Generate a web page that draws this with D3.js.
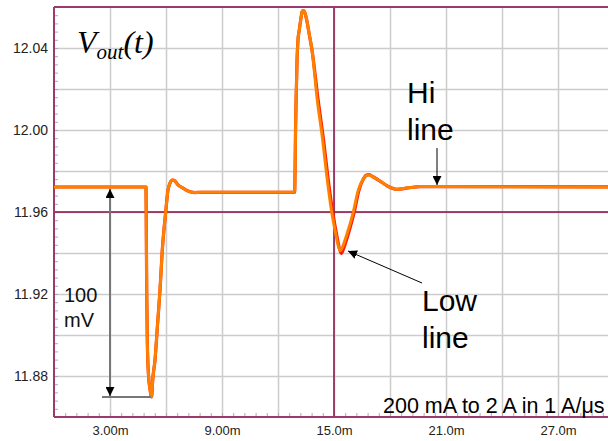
<!DOCTYPE html>
<html>
<head>
<meta charset="utf-8">
<script src="https://cdn.jsdelivr.net/npm/d3@7"></script>
<style>
  html, body { margin: 0; padding: 0; background: #fff; }
  svg { display: block; }
</style>
</head>
<body>
<svg id="chart" width="608" height="441"></svg>
<script>
// Output voltage during a 200 mA -> 2 A load step, two input-line conditions.
const hiTime = [0, 4.929, 4.945, 4.966, 4.998, 5.062, 5.150, 5.200, 5.230, 5.287, 5.411, 5.545, 5.679,
  5.802, 5.984, 6.107, 6.214, 6.348, 6.482, 6.643, 6.911, 7.179, 7.554, 7.821, 10.50, 12.890,
  12.915, 12.940, 12.970, 13.020, 13.071, 13.141, 13.232, 13.286, 13.355, 13.446, 13.537, 13.661,
  13.821, 14.105, 14.394, 14.609, 14.877, 15.107, 15.230, 15.337, 15.455, 15.680, 16.034, 16.302,
  16.537, 16.714, 16.875, 17.089, 17.464, 17.855, 18.359, 19.071, 19.607, 20.30, 30];
const hiVolt = [11.9722, 11.9722, 11.9512, 11.9220, 11.8976, 11.8805, 11.8732, 11.8702, 11.8698,
  11.8780, 11.8878, 11.9049, 11.9220, 11.9415, 11.9600, 11.9707, 11.9741, 11.9756, 11.9751, 11.9732,
  11.9717, 11.9702, 11.9695, 11.9696, 11.9696, 11.9696, 11.9805, 12.0000, 12.0146, 12.0341, 12.0439,
  12.0488, 12.0546, 12.0576, 12.0583, 12.0571, 12.0537, 12.0473, 12.0390, 12.0146, 11.9951, 11.9780,
  11.9600, 11.9488, 11.9434, 11.9411, 11.9429, 11.9488, 11.9600, 11.9707, 11.9756, 11.9776, 11.9780,
  11.9771, 11.9751, 11.9727, 11.9711, 11.9719, 11.9724, 11.9724, 11.9722];

const lowTime = [0, 4.929, 4.945, 4.966, 4.998, 5.062, 5.150, 5.200, 5.230, 5.287, 5.411, 5.545, 5.679,
  5.802, 5.984, 6.107, 6.214, 6.348, 6.482, 6.643, 6.911, 7.179, 7.554, 7.821, 10.50, 12.890,
  12.915, 12.940, 12.970, 13.020, 13.071, 13.141, 13.232, 13.286, 13.355, 13.446, 13.537, 13.661,
  13.821, 14.15, 14.44, 14.66, 14.93, 15.16, 15.28, 15.39, 15.50, 15.73, 16.08, 16.34,
  16.56, 16.73, 16.88, 17.089, 17.464, 17.855, 18.359, 19.071, 19.607, 20.30, 30];
const lowVolt = [11.9722, 11.9722, 11.9512, 11.9220, 11.8976, 11.8805, 11.8732, 11.8702, 11.8698,
  11.8780, 11.8878, 11.9049, 11.9220, 11.9415, 11.9600, 11.9707, 11.9741, 11.9756, 11.9751, 11.9732,
  11.9717, 11.9702, 11.9695, 11.9696, 11.9696, 11.9696, 11.9805, 12.0000, 12.0146, 12.0341, 12.0439,
  12.0488, 12.0546, 12.0576, 12.0583, 12.0571, 12.0537, 12.0473, 12.0390, 12.0146, 11.9951, 11.9780,
  11.9600, 11.9480, 11.9425, 11.9398, 11.9418, 11.9482, 11.9598, 11.9707, 11.9758, 11.9779, 11.9782,
  11.9772, 11.9751, 11.9727, 11.9711, 11.9719, 11.9724, 11.9724, 11.9722];

const xTickValues = [3, 9, 15, 21, 27];
const xTickLabels = ["3.00m", "9.00m", "15.0m", "21.0m", "27.0m"];
const yTickValues = [11.88, 11.92, 11.96, 12.00, 12.04];
const yTickLabels = ["11.88", "11.92", "11.96", "12.00", "12.04"];
const cursorTime = 15;
const cursorVolt = 11.96;
const spanTop = 11.9722, spanBottom = 11.8698;   // the 100 mV dip

const svg = d3.select("#chart");
const plotL = 54, plotT = 7, plotB = 417, plotR = 614;

const x = d3.scaleLinear().domain([0, 30]).range([plotL, plotR]);
const y = d3.scaleLinear().domain([11.86, 12.06]).range([plotB, plotT]);

const axisColor = "#9b3a6e";
const cursorColor = "#8a0a45";
const gridColor = "#cccccc";
const sans = "'Liberation Sans', Arial, sans-serif";

// grid
svg.append("g")
  .attr("transform", `translate(0,${plotB})`)
  .call(d3.axisBottom(x).tickValues(d3.range(3, 30, 3)).tickSize(-(plotB - plotT)).tickFormat(""))
  .call(g => g.select(".domain").remove())
  .call(g => g.selectAll("line").attr("stroke", gridColor).attr("stroke-width", 1.5));
svg.append("g")
  .attr("transform", `translate(${plotL},0)`)
  .call(d3.axisLeft(y).tickValues(d3.range(11.88, 12.05, 0.02)).tickSize(-(plotR - plotL)).tickFormat(""))
  .call(g => g.select(".domain").remove())
  .call(g => g.selectAll("line").attr("stroke", gridColor).attr("stroke-width", 1.5));

// minor ticks
svg.append("g")
  .attr("transform", `translate(0,${plotB})`)
  .call(d3.axisBottom(x).tickValues(d3.range(0, 30.01, 0.6)).tickSize(-4).tickFormat(""))
  .call(g => g.select(".domain").remove())
  .call(g => g.selectAll("line").attr("stroke", "#aaaaaa"));
svg.append("g")
  .attr("transform", `translate(${plotL},0)`)
  .call(d3.axisLeft(y).tickValues(d3.range(11.86, 12.061, 0.004)).tickSize(-4).tickFormat(""))
  .call(g => g.select(".domain").remove())
  .call(g => g.selectAll("line").attr("stroke", "#aaaaaa"));

// tick labels
svg.append("g")
  .attr("transform", `translate(0,${plotB})`)
  .call(d3.axisBottom(x).tickValues(xTickValues).tickFormat((d, i) => xTickLabels[i]).tickSize(0).tickPadding(9))
  .call(g => g.select(".domain").remove())
  .call(g => g.selectAll("text").attr("font-family", sans).attr("font-size", 13).attr("fill", "#222"));
svg.append("g")
  .attr("transform", `translate(${plotL},0)`)
  .call(d3.axisLeft(y).tickValues(yTickValues).tickFormat((d, i) => yTickLabels[i]).tickSize(0).tickPadding(6))
  .call(g => g.select(".domain").remove())
  .call(g => g.selectAll("text").attr("font-family", sans).attr("font-size", 14).attr("fill", "#222"));

// cursors
svg.append("line")
  .attr("x1", plotL).attr("x2", plotR).attr("y1", y(cursorVolt)).attr("y2", y(cursorVolt))
  .attr("stroke", cursorColor).attr("stroke-width", 1.5);
svg.append("line")
  .attr("x1", x(cursorTime)).attr("x2", x(cursorTime)).attr("y1", plotT).attr("y2", plotB)
  .attr("stroke", cursorColor).attr("stroke-width", 1.5);

// frame
svg.append("line").attr("x1", plotL).attr("x2", plotR).attr("y1", plotT).attr("y2", plotT)
  .attr("stroke", axisColor).attr("stroke-width", 2);
svg.append("line").attr("x1", plotL).attr("x2", plotL).attr("y1", plotT).attr("y2", plotB)
  .attr("stroke", axisColor).attr("stroke-width", 2);
svg.append("line").attr("x1", plotL).attr("x2", plotR).attr("y1", plotB).attr("y2", plotB)
  .attr("stroke", axisColor).attr("stroke-width", 2);

// waveforms
const line = d3.line().x(d => x(d[0])).y(d => y(d[1])).curve(d3.curveMonotoneX);
svg.append("path")
  .datum(d3.zip(lowTime, lowVolt))
  .attr("d", line).attr("fill", "none").attr("stroke", "#ff1a00").attr("stroke-width", 3.2)
  .attr("stroke-linejoin", "round");
svg.append("path")
  .datum(d3.zip(hiTime, hiVolt))
  .attr("d", line).attr("fill", "none").attr("stroke", "#ff8000").attr("stroke-width", 3)
  .attr("stroke-linejoin", "round");

// arrowheads
const defs = svg.append("defs");
defs.append("marker").attr("id", "head").attr("viewBox", "0 0 10 10")
  .attr("refX", 10).attr("refY", 5).attr("markerWidth", 9).attr("markerHeight", 9)
  .attr("markerUnits", "userSpaceOnUse").attr("orient", "auto-start-reverse")
  .append("path").attr("d", "M0,0 L10,5 L0,10 Z").attr("fill", "#000");

// 100 mV span
const spanX = x(3);
svg.append("line")
  .attr("x1", spanX - 8).attr("x2", x(5.2)).attr("y1", y(spanBottom)).attr("y2", y(spanBottom))
  .attr("stroke", "#777").attr("stroke-width", 2);
svg.append("line")
  .attr("x1", spanX).attr("x2", spanX).attr("y1", y(spanTop) + 2).attr("y2", y(spanBottom) - 1)
  .attr("stroke", "#777").attr("stroke-width", 2)
  .attr("marker-start", "url(#head)").attr("marker-end", "url(#head)");
svg.append("text").attr("x", 64).attr("y", 302).attr("font-family", sans).attr("font-size", 20)
  .attr("fill", "#111").text("100");
svg.append("text").attr("x", 64).attr("y", 327).attr("font-family", sans).attr("font-size", 20)
  .attr("fill", "#111").text("mV");

// Hi line label
svg.append("line").attr("x1", 437).attr("x2", 437).attr("y1", 148).attr("y2", 185)
  .attr("stroke", "#000").attr("stroke-width", 1).attr("marker-end", "url(#head)");
svg.append("text").attr("x", 407).attr("y", 103).attr("font-family", sans).attr("font-size", 30)
  .attr("fill", "#000").text("Hi");
svg.append("text").attr("x", 407).attr("y", 140).attr("font-family", sans).attr("font-size", 30)
  .attr("fill", "#000").text("line");

// Low line label
svg.append("line").attr("x1", 422).attr("x2", 348).attr("y1", 283).attr("y2", 251)
  .attr("stroke", "#000").attr("stroke-width", 1).attr("marker-end", "url(#head)");
svg.append("text").attr("x", 422).attr("y", 311).attr("font-family", sans).attr("font-size", 30)
  .attr("fill", "#000").text("Low");
svg.append("text").attr("x", 422).attr("y", 348).attr("font-family", sans).attr("font-size", 30)
  .attr("fill", "#000").text("line");

// condition note
svg.append("text").attr("x", 383).attr("y", 413).attr("font-family", sans).attr("font-size", 21.5)
  .attr("fill", "#000").text("200 mA to 2 A in 1 A/μs");

// title
const title = svg.append("text").attr("x", 77).attr("y", 53)
  .attr("font-family", "'Liberation Serif', 'Times New Roman', serif").attr("font-style", "italic")
  .attr("fill", "#000");
title.append("tspan").attr("font-size", 32).text("V");
title.append("tspan").attr("font-size", 21).attr("dy", 6).text("out");
title.append("tspan").attr("font-size", 32).attr("dy", -6).text("(t)");
</script>
</body>
</html>
